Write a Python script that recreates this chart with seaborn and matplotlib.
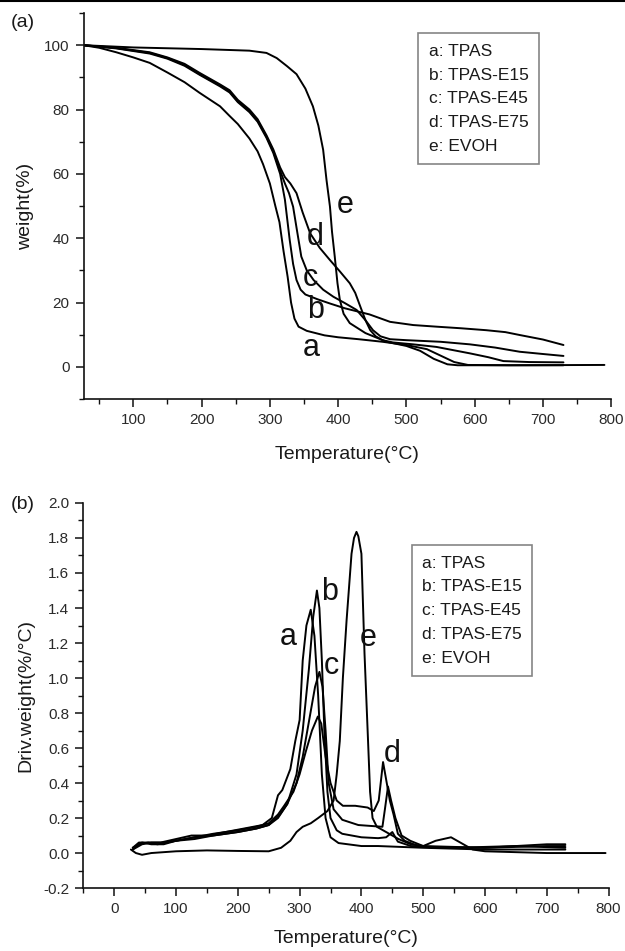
import numpy as np
import pandas as pd
import matplotlib
matplotlib.use("Agg")
import matplotlib.pyplot as plt
from matplotlib.ticker import MultipleLocator, FormatStrFormatter
from matplotlib.lines import Line2D
import seaborn as sns

# ---------------- data ----------------
series_keys = ["a", "b", "c", "d", "e"]
series_names = ["TPAS", "TPAS-E15", "TPAS-E45", "TPAS-E75", "EVOH"]

# (a) TG curves: temperature (°C) and weight (%)
tg_a_T = [27, 50, 75, 100, 124, 150, 175, 197, 227, 241, 253, 270, 282, 290, 300, 308, 314, 320, 326, 331, 336, 342, 354, 380, 400, 430, 465, 500, 530, 555, 570, 590, 650, 730]
tg_a_w = [100, 99.2, 97.8, 96.2, 94.5, 91.5, 88.5, 85.2, 81, 78, 75.5, 71, 67, 63, 57, 50, 45, 36, 28, 20, 15, 12.5, 11.2, 9.8, 9.2, 8.6, 7.8, 6.8, 5.5, 3, 1.5, 0.6, 0.5, 0.5]

tg_b_T = [27, 75, 124, 150, 175, 197, 227, 241, 253, 270, 282, 295, 305, 315, 322, 329, 334, 339, 345, 352, 370, 388, 410, 446, 476, 510, 544, 580, 617, 645, 666, 700, 730]
tg_b_w = [100, 99, 97.4, 95.8, 93.6, 90.8, 87.2, 85.3, 82.3, 79.2, 76.2, 71.2, 66.5, 60, 52, 39.5, 32, 27, 24, 22.5, 21, 19.7, 18.2, 16.3, 14, 13, 12.5, 12, 11.4, 10.8, 9.9, 8.5, 6.8]

tg_c_T = [27, 75, 124, 150, 175, 197, 227, 241, 253, 270, 282, 295, 305, 315, 322, 328, 334, 340, 346, 354, 364, 378, 393, 410, 427, 440, 451, 462, 476, 500, 550, 593, 630, 666, 700, 730]
tg_c_w = [100, 99.1, 97.6, 96, 93.9, 91, 87.5, 85.6, 82.6, 79.5, 76.6, 71.6, 67, 61, 57, 54, 49.8, 42, 34.3, 30, 27, 24, 21.8, 19.8, 17.7, 14.5, 11.4, 9.5, 8.6, 8.3, 7.8, 7, 6, 4.7, 4, 3.4]

tg_d_T = [27, 75, 124, 150, 175, 197, 227, 241, 253, 270, 282, 295, 305, 315, 322, 330, 339, 348, 359, 373, 388, 402, 417, 425, 432, 440, 447, 455, 465, 480, 510, 544, 593, 620, 642, 680, 730]
tg_d_w = [100, 99.2, 97.8, 96.2, 94.2, 91.4, 87.8, 86, 83, 80, 77, 72, 67.6, 62, 59, 57, 54, 48, 41.5, 37, 33.2, 29.8, 26, 23, 19, 14.5, 11.4, 9.5, 8.3, 7.6, 7, 6.2, 4.2, 3, 1.8, 1.5, 1.4]

tg_e_T = [27, 100, 200, 270, 295, 310, 325, 339, 352, 363, 371, 378, 383, 388, 391, 395, 399, 402.5, 408, 417, 440, 471, 500, 520, 540, 560, 575, 650, 790]
tg_e_w = [100, 99.3, 98.8, 98.3, 97.6, 96, 93.5, 91, 86.5, 81, 75, 67.5, 58, 49.8, 42, 34.3, 26, 20.8, 16.5, 13.6, 10.5, 7.8, 6.5, 5, 2.5, 0.8, 0.5, 0.5, 0.6]

# (b) DTG curves: temperature (°C) and derivative weight (%/°C)
dtg_a_T = [30, 40, 55, 75, 100, 125, 150, 180, 210, 240, 255, 265, 272, 285, 293, 300, 305, 311, 318, 324, 330, 336, 342, 350, 363, 400, 427, 500, 600, 700, 730]
dtg_a_v = [0.03, 0.06, 0.06, 0.06, 0.08, 0.10, 0.10, 0.12, 0.14, 0.16, 0.20, 0.33, 0.36, 0.48, 0.64, 0.76, 1.10, 1.30, 1.39, 1.24, 0.90, 0.45, 0.20, 0.09, 0.057, 0.04, 0.04, 0.03, 0.02, 0.02, 0.02]

dtg_b_T = [30, 45, 60, 80, 100, 130, 160, 200, 230, 250, 265, 280, 295, 305, 315, 322, 328, 332, 336, 340, 345, 350, 360, 369, 400, 427, 440, 450, 459, 480, 550, 650, 730]
dtg_b_v = [0.02, 0.05, 0.06, 0.06, 0.07, 0.09, 0.10, 0.12, 0.14, 0.16, 0.20, 0.28, 0.45, 0.70, 1.05, 1.35, 1.50, 1.40, 1.10, 0.70, 0.35, 0.20, 0.13, 0.11, 0.09, 0.085, 0.09, 0.12, 0.065, 0.04, 0.03, 0.04, 0.03]

dtg_c_T = [30, 45, 60, 80, 100, 130, 160, 200, 230, 250, 268, 280, 295, 305, 315, 325, 332, 337, 342, 347, 355, 369, 395, 434, 438, 443, 448, 455, 465, 479, 500, 600, 700, 730]
dtg_c_v = [0.03, 0.06, 0.05, 0.05, 0.07, 0.08, 0.10, 0.12, 0.14, 0.16, 0.22, 0.28, 0.40, 0.55, 0.75, 0.95, 1.035, 0.95, 0.70, 0.40, 0.25, 0.19, 0.16, 0.15, 0.25, 0.38, 0.30, 0.20, 0.10, 0.07, 0.04, 0.03, 0.04, 0.04]

dtg_d_T = [30, 40, 55, 70, 100, 130, 160, 200, 230, 250, 265, 275, 290, 300, 310, 320, 329.5, 335, 342, 350, 360, 370, 390, 410, 420, 428, 435, 440, 446, 452, 459, 470, 492, 520, 600, 650, 700, 730]
dtg_d_v = [0.02, 0.05, 0.06, 0.05, 0.07, 0.09, 0.11, 0.13, 0.15, 0.17, 0.22, 0.27, 0.35, 0.45, 0.58, 0.70, 0.78, 0.74, 0.55, 0.40, 0.30, 0.27, 0.27, 0.26, 0.24, 0.30, 0.52, 0.42, 0.30, 0.22, 0.11, 0.07, 0.04, 0.03, 0.03, 0.04, 0.05, 0.05]

dtg_e_T = [27, 35, 45, 60, 100, 150, 200, 250, 270, 285, 295, 305, 318, 330, 345, 355, 360, 365, 370, 376, 384, 388, 392, 395, 400, 405, 410.5, 414, 418, 425, 440, 460, 480, 500, 520, 545, 565, 580, 600, 700, 795]
dtg_e_v = [0.02, 0.0, -0.01, 0.0, 0.01, 0.015, 0.012, 0.01, 0.03, 0.07, 0.12, 0.15, 0.17, 0.20, 0.24, 0.30, 0.45, 0.64, 1.00, 1.33, 1.71, 1.80, 1.835, 1.81, 1.71, 1.14, 0.66, 0.35, 0.20, 0.15, 0.12, 0.08, 0.05, 0.04, 0.07, 0.09, 0.05, 0.02, 0.01, 0.0, 0.0]

# curve annotation letters: (T, value)
tg_letter_pos = {"a": (361, 6), "b": (367, 17.7), "c": (360, 27.5), "d": (367, 40.3), "e": (410, 50.4)}
dtg_letter_pos = {"a": (281, 1.235), "b": (348.5, 1.49), "c": (352, 1.07), "d": (449.6, 0.563), "e": (410.5, 1.226)}

tg_T = [tg_a_T, tg_b_T, tg_c_T, tg_d_T, tg_e_T]
tg_w = [tg_a_w, tg_b_w, tg_c_w, tg_d_w, tg_e_w]
dtg_T = [dtg_a_T, dtg_b_T, dtg_c_T, dtg_d_T, dtg_e_T]
dtg_v = [dtg_a_v, dtg_b_v, dtg_c_v, dtg_d_v, dtg_e_v]


def long_table(Ts, Ys):
    rows = []
    for k, name, T, Y in zip(series_keys, series_names, Ts, Ys):
        for t, y in zip(T, Y):
            rows.append({"series": f"{k}: {name}", "T": t, "y": y})
    return pd.DataFrame(rows)


tg_df = long_table(tg_T, tg_w)
dtg_df = long_table(dtg_T, dtg_v)

# ---------------- style ----------------
sns.set_style("ticks")
plt.rcParams["font.family"] = ["Liberation Sans", "DejaVu Sans"]
plt.rcParams["axes.linewidth"] = 1.2
plt.rcParams["xtick.major.width"] = 1.1
plt.rcParams["ytick.major.width"] = 1.1
plt.rcParams["xtick.minor.width"] = 1.0
plt.rcParams["ytick.minor.width"] = 1.0

fig = plt.figure(figsize=(6.25, 9.51), dpi=100)
ax1 = fig.add_axes([0.1336, 0.5804, 0.8444, 0.4059])
ax2 = fig.add_axes([0.1333, 0.0662, 0.8405, 0.4049])

tick_color = "#2a2a2a"
line_kw = dict(color="black", linewidth=1.4)
label_fs = 14
letter_fs = 22


def style_axis(ax):
    sns.despine(ax=ax)
    ax.spines["left"].set_color("#111111")
    ax.spines["bottom"].set_color("#111111")
    ax.tick_params(which="major", direction="out", length=6, pad=4,
                   labelsize=11, colors="#111111", labelcolor=tick_color)
    ax.tick_params(which="minor", direction="out", length=3.5, colors="#111111")


# ---- panel (a) ----
for label in tg_df["series"].unique():
    sub = tg_df[tg_df["series"] == label]
    sns.lineplot(data=sub, x="T", y="y", ax=ax1, estimator=None, sort=False,
                 label=label, **line_kw)
ax1.set_xlim(27, 800)
ax1.set_ylim(-10, 110)
ax1.xaxis.set_major_locator(MultipleLocator(100))
ax1.xaxis.set_minor_locator(MultipleLocator(50))
ax1.yaxis.set_major_locator(MultipleLocator(20))
ax1.yaxis.set_minor_locator(MultipleLocator(10))
ax1.set_xticks([100, 200, 300, 400, 500, 600, 700, 800])
ax1.set_yticks([0, 20, 40, 60, 80, 100])
style_axis(ax1)
ax1.set_xlabel("Temperature(°C)", fontsize=label_fs, color="#1a1a1a")
ax1.set_ylabel("weight(%)", fontsize=label_fs, color="#1a1a1a")
ax1.xaxis.set_label_coords(0.5, -0.122)
ax1.yaxis.set_label_coords(-0.094, 0.5)
for k, (tx, ty) in tg_letter_pos.items():
    ax1.text(tx, ty, k, fontsize=letter_fs, ha="center", va="center", color="#111111")

# ---- panel (b) ----
for label in dtg_df["series"].unique():
    sub = dtg_df[dtg_df["series"] == label]
    sns.lineplot(data=sub, x="T", y="y", ax=ax2, estimator=None, sort=False,
                 label=label, **line_kw)
ax2.set_xlim(-50, 800)
ax2.set_ylim(-0.2, 2.0)
ax2.xaxis.set_major_locator(MultipleLocator(100))
ax2.xaxis.set_minor_locator(MultipleLocator(50))
ax2.yaxis.set_major_locator(MultipleLocator(0.2))
ax2.yaxis.set_minor_locator(MultipleLocator(0.1))
ax2.yaxis.set_major_formatter(FormatStrFormatter("%.1f"))
style_axis(ax2)
ax2.set_xlabel("Temperature(°C)", fontsize=label_fs, color="#1a1a1a")
ax2.set_ylabel("Driv.weight(%/°C)", fontsize=label_fs, color="#1a1a1a")
ax2.xaxis.set_label_coords(0.5, -0.108)
ax2.yaxis.set_label_coords(-0.094, 0.5)
for k, (tx, ty) in dtg_letter_pos.items():
    ax2.text(tx, ty, k, fontsize=letter_fs, ha="center", va="center", color="#111111")

# legends (text-only entries in a grey box)
for ax, anchor in [(ax1, (0.634, 0.948)), (ax2, (0.625, 0.891))]:
    handles, labels = ax.get_legend_handles_labels()
    leg = ax.legend(handles, labels, loc="upper left", bbox_to_anchor=anchor,
                    handlelength=0, handletextpad=0, fontsize=12.5,
                    frameon=True, fancybox=False, borderpad=0.6,
                    labelspacing=0.5, borderaxespad=0)
    for h in leg.legend_handles:
        h.set_visible(False)
    leg.get_frame().set_edgecolor("#666666")
    leg.get_frame().set_linewidth(1.2)
    for t in leg.get_texts():
        t.set_color("#1a1a1a")

fig.text(0.037, 0.976, "(a)", fontsize=14, ha="center", va="center", color="#1a1a1a")
fig.text(0.037, 0.469, "(b)", fontsize=14, ha="center", va="center", color="#1a1a1a")

# page border line at the very top of the image
fig.add_artist(Line2D([0, 1], [0.9985, 0.9985], transform=fig.transFigure,
                      color="black", linewidth=1.5))

fig.savefig("out.png", dpi=100)
